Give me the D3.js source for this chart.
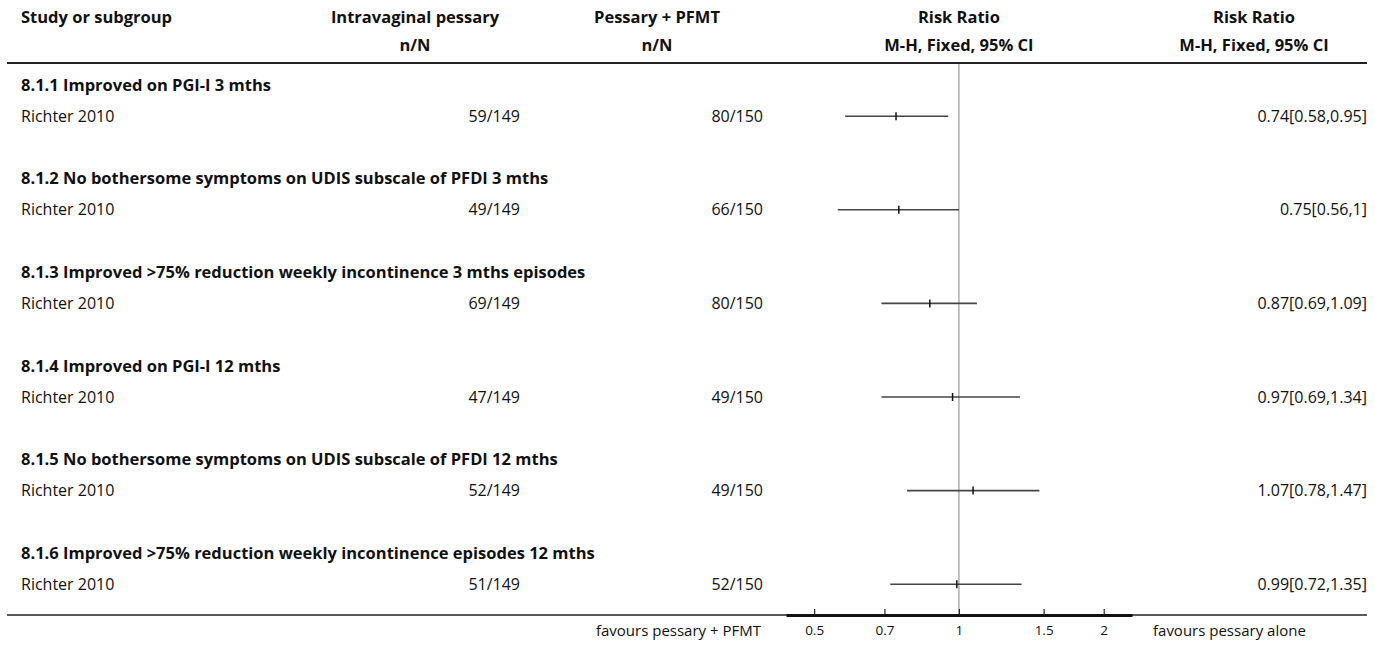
<!DOCTYPE html>
<html><head><meta charset="utf-8">
<script src="https://cdn.jsdelivr.net/npm/d3@7"></script>
<style>
body{margin:0;background:#fff;}
text{font-family:"Open Sans","Noto Sans",sans-serif;fill:#111;}
.b{font-weight:700;}
</style></head>
<body><svg id="c" width="1375" height="646"></svg>
<script>
const subgroups = [
 "8.1.1 Improved on PGI-I 3 mths",
 "8.1.2 No bothersome symptoms on UDIS subscale of PFDI 3 mths",
 "8.1.3 Improved >75% reduction weekly incontinence 3 mths episodes",
 "8.1.4 Improved on PGI-I 12 mths",
 "8.1.5 No bothersome symptoms on UDIS subscale of PFDI 12 mths",
 "8.1.6 Improved >75% reduction weekly incontinence episodes 12 mths"
];
const studies = ["Richter 2010","Richter 2010","Richter 2010","Richter 2010","Richter 2010","Richter 2010"];
const pessary = ["59/149","49/149","69/149","47/149","52/149","51/149"];
const pfmt = ["80/150","66/150","80/150","49/150","49/150","52/150"];
const rr = [0.74,0.75,0.87,0.97,1.07,0.99];
const lo = [0.58,0.56,0.69,0.69,0.78,0.72];
const hi = [0.95,1,1.09,1.34,1.47,1.35];
const rrLabels = ["0.74[0.58,0.95]","0.75[0.56,1]","0.87[0.69,1.09]","0.97[0.69,1.34]","1.07[0.78,1.47]","0.99[0.72,1.35]"];
const tickValues = [0.5,0.7,1,1.5,2];
const tickLabels = ["0.5","0.7","1","1.5","2"];

const svg = d3.select("#c");
const FS = 16, FB = 16.5;
const x = d3.scaleLog().domain([0.437,2.29]).range([786,1132]);
const y = d3.scaleLinear().domain([0,1]).range([85,116.2]);

// header
const hdr = [
 {t:"Study or subgroup",x:21,a:"start",r:0},
 {t:"Intravaginal pessary",x:415,a:"middle",r:0},
 {t:"n/N",x:415,a:"middle",r:1},
 {t:"Pessary + PFMT",x:657,a:"middle",r:0},
 {t:"n/N",x:657,a:"middle",r:1},
 {t:"Risk Ratio",x:x(1),a:"middle",r:0},
 {t:"M-H, Fixed, 95% CI",x:x(1),a:"middle",r:1},
 {t:"Risk Ratio",x:1254,a:"middle",r:0},
 {t:"M-H, Fixed, 95% CI",x:1254,a:"middle",r:1}
];
svg.selectAll("text.h").data(hdr).enter().append("text").attr("class","b h")
 .attr("x",d=>d.x).attr("y",d=>d.r?45:17).attr("dy","0.35em")
 .attr("text-anchor",d=>d.a).style("font-size",FB+"px").text(d=>d.t);

svg.append("line").attr("x1",7).attr("x2",1367).attr("y1",63).attr("y2",63)
 .attr("stroke","#222").attr("stroke-width",2);

// null line
svg.append("line").attr("x1",x(1)).attr("x2",x(1)).attr("y1",64).attr("y2",615)
 .attr("stroke","#999").attr("stroke-width",1.2);

const rows = subgroups.map((s,i)=>({i,s,study:studies[i],p:pessary[i],f:pfmt[i],rr:rr[i],lo:lo[i],hi:hi[i],lab:rrLabels[i]}));
const g = svg.selectAll("g.r").data(rows).enter().append("g");
g.append("text").attr("class","b").attr("x",21).attr("y",d=>y(d.i*3)).attr("dy","0.35em")
 .style("font-size",FB+"px").text(d=>d.s);
g.append("text").attr("x",21).attr("y",d=>y(d.i*3+1)).attr("dy","0.35em")
 .style("font-size",FS+"px").text(d=>d.study);
g.append("text").attr("x",520).attr("text-anchor","end").attr("y",d=>y(d.i*3+1)).attr("dy","0.35em")
 .style("font-size",FS+"px").text(d=>d.p);
g.append("text").attr("x",763).attr("text-anchor","end").attr("y",d=>y(d.i*3+1)).attr("dy","0.35em")
 .style("font-size",FS+"px").text(d=>d.f);
g.append("text").attr("x",1367).attr("text-anchor","end").attr("y",d=>y(d.i*3+1)).attr("dy","0.35em")
 .style("font-size",FS+"px").text(d=>d.lab);
g.append("line").attr("x1",d=>x(d.lo)).attr("x2",d=>x(d.hi))
 .attr("y1",d=>y(d.i*3+1)).attr("y2",d=>y(d.i*3+1)).attr("stroke","#444").attr("stroke-width",1.6);
g.append("line").attr("x1",d=>x(d.rr)).attr("x2",d=>x(d.rr))
 .attr("y1",d=>y(d.i*3+1)-4).attr("y2",d=>y(d.i*3+1)+4).attr("stroke","#111").attr("stroke-width",1.5);

// bottom line & axis
svg.append("line").attr("x1",7).attr("x2",1367).attr("y1",615).attr("y2",615)
 .attr("stroke","#222").attr("stroke-width",1.5);
const ax = svg.append("g").attr("transform","translate(0,615)")
 .call(d3.axisBottom(x).tickValues(tickValues).tickFormat((d,i)=>tickLabels[i]).tickSizeInner(-6).tickSizeOuter(0).tickPadding(10));
ax.select(".domain").attr("stroke","#111").attr("stroke-width",3);
ax.selectAll(".tick line").attr("stroke","#222").attr("stroke-width",1.2);
ax.selectAll(".tick text").style("font-family",'"Open Sans","Noto Sans",sans-serif').style("font-size","13.5px").attr("fill","#111");

svg.append("text").attr("x",761).attr("y",631).attr("dy","0.35em").attr("text-anchor","end")
 .style("font-size","15px").text("favours pessary + PFMT");
svg.append("text").attr("x",1153).attr("y",631).attr("dy","0.35em")
 .style("font-size","15px").text("favours pessary alone");
</script></body></html>
